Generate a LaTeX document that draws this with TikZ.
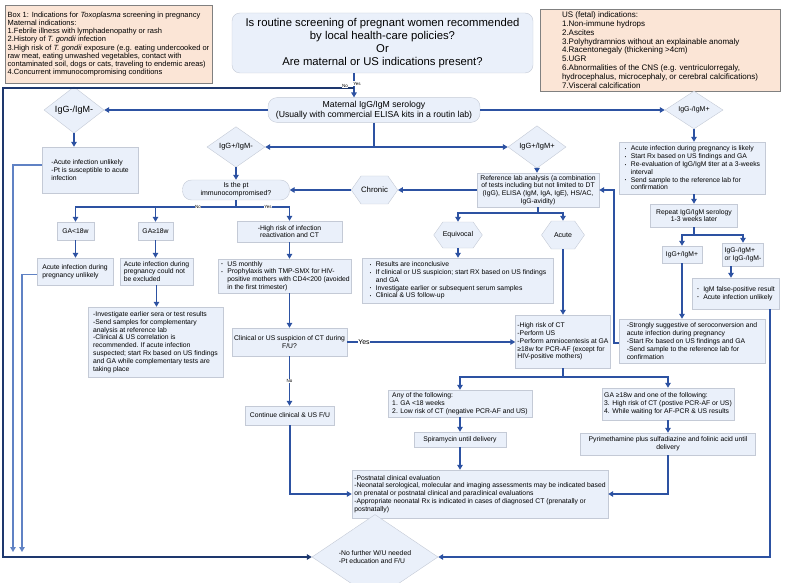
\documentclass[tikz,border=0pt]{standalone}
\usepackage{fontspec}
\setmainfont{Liberation Sans}
\usepackage{graphicx}
\usetikzlibrary{shapes.geometric,shapes.symbols,arrows.meta}

\definecolor{boxfill}{RGB}{234,240,250}
\definecolor{boxline}{RGB}{196,202,214}
\definecolor{peach}{RGB}{251,229,214}
\definecolor{arrowblue}{RGB}{45,82,162}
\definecolor{navy}{RGB}{30,56,110}
\definecolor{lightline}{RGB}{96,130,196}

\newcommand{\bl}{\makebox[7pt][l]{\hspace{1pt}\raisebox{.4pt}{\scalebox{.6}{\textbullet}}}}
\newcommand{\bi}{\hspace*{7pt}}
\newcommand{\smalltxt}{\fontsize{6.8}{7.8}\selectfont}

\tikzset{
  box/.style={draw=boxline, fill=boxfill, inner sep=2pt, align=left, font=\smalltxt},
  cbox/.style={box, align=center},
  note/.style={draw=black!50, fill=peach, inner sep=2pt, align=left},
  dec/.style={diamond, draw=boxline, fill=boxfill, inner sep=0pt, align=center, font=\fontsize{7.5}{9}\selectfont},
  hex/.style={signal, signal to=east and west, signal pointer angle=110, draw=boxline, fill=boxfill, inner sep=0pt, font=\fontsize{7}{8}\selectfont},
  arr/.style={draw=arrowblue, line width=1.3pt, -{Triangle[length=5pt,width=5.5pt]}},
  ln/.style={draw=arrowblue, line width=1.3pt},
  tag/.style={font=\fontsize{4.5}{5}\selectfont, fill=white, inner sep=.5pt},
}

\begin{document}
\begin{tikzpicture}[x=1pt,y=-1pt]
\useasboundingbox (0,0) rectangle (785,583);

\begin{scope}[every node/.style={note, font=\fontsize{7.5}{8.2}\selectfont}]
  \node[minimum width=207pt, minimum height=78pt] (box1) at (108.5,44) {Box 1: Indications for \textit{Toxoplasma} screening in pregnancy\\Maternal indications:\\1.Febrile illness with lymphadenopathy or rash\\2.History of \textit{T. gondii} infection\\3.High risk of \textit{T. gondii} exposure (e.g. eating undercooked or\\raw meat, eating unwashed vegetables, contact with\\contaminated soil, dogs or cats, traveling to endemic areas)\\4.Concurrent immunocompromising conditions};
  \node[minimum width=240pt, minimum height=82pt, font=\fontsize{8}{8.8}\selectfont] (box2) at (660,50) {US (fetal) indications:\\1.Non-immune hydrops\\2.Ascites\\3.Polyhydramnios without an explainable anomaly\\4.Racentonegaly (thickening >4cm)\\5.UGR\\6.Abnormalities of the CNS (e.g. ventriculorregaly,\\hydrocephalus, microcephaly, or cerebral calcifications)\\7.Visceral calcification};
\end{scope}

\node[draw=boxline, fill=boxfill, rounded corners=8pt, minimum width=301pt, minimum height=60pt, align=center, font=\fontsize{11.3}{13}\selectfont] (q) at (382.5,43) {Is routine screening of pregnant women recommended\\by local health-care policies?\\Or\\Are maternal or US indications present?};
\node[draw=boxline, fill=boxfill, rounded corners=9pt, minimum width=212pt, minimum height=23pt, align=center, font=\fontsize{8.7}{10}\selectfont] (ser) at (374,110) {Maternal IgG/IgM serology\\(Usually with commercial ELISA kits in a routin lab)};

\node[dec, minimum width=60pt, minimum height=37pt, font=\fontsize{9}{10}\selectfont] (dnn) at (74,110) {IgG-/IgM-};
\node[dec, minimum width=58pt, minimum height=34pt, font=\fontsize{7}{8}\selectfont] (dnp) at (694,110) {IgG-/IgM+};
\node[dec, minimum width=58pt, minimum height=37pt] (dpn) at (236,147) {IgG+/IgM-};
\node[dec, minimum width=58pt, minimum height=36pt] (dpp) at (537,147) {IgG+/IgM+};

\node[box, minimum width=96pt, minimum height=46pt] (unl) at (90,170) {-Acute infection unlikely\\-Pt is susceptible to acute\\infection};
\node[cbox, rounded corners=9pt, minimum width=107pt, minimum height=20pt, font=\fontsize{7}{8}\selectfont] (imm) at (236,190) {Is the pt\\immunocompromised?};
\node[hex, minimum width=45pt, minimum height=28pt, font=\fontsize{7.8}{9}\selectfont] (chr) at (374.5,190) {Chronic};
\node[cbox, minimum width=122pt, minimum height=34pt] (ref) at (538,190) {Reference lab analysis (a combination\\of tests including but not limited to DT\\(IgG), ELISA (IgM, IgA, IgE), HS/AC,\\IgG-avidity)};
\node[hex, minimum width=43pt, minimum height=26pt] (equ) at (458,235) {Equivocal};
\node[hex, minimum width=43pt, minimum height=28pt] (acu) at (563,235) {Acute};
\node[box, minimum width=191pt, minimum height=45pt] (res) at (457.5,280.5) {\bl Results are inconclusive\\\bl If clinical or US suspicion; start RX based on US findings\\\bi and GA\\\bl Investigate earlier or subsequent serum samples\\\bl Clinical \& US follow-up};
\node[box, minimum width=93pt, minimum height=53pt] (hri) at (563,341.5) {-High risk of CT\\-Perform US\\-Perform amniocentesis at GA\\≥18w for PCR-AF (except for\\HIV-positive mothers)};

\node[box, minimum width=146pt, minimum height=52pt] (lik) at (692,168) {\bl Acute infection during pregnancy is likely\\\bl Start Rx based on US findings and GA\\\bl Re-evaluation of IgG/IgM titer at a 3-weeks\\\bi interval\\\bl Send sample to the reference lab for\\\bi confirmation};
\node[cbox, minimum width=87pt, minimum height=23pt] (rep) at (694,215.5) {Repeat IgG/IgM serology\\1-3 weeks later};
\node[cbox, minimum width=40pt, minimum height=17pt] (ppb) at (682,254.5) {IgG+/IgM+};
\node[box, minimum width=40pt, minimum height=23pt] (nb) at (743,254.5) {IgG-/IgM+\\or IgG-/IgM-};
\node[box, minimum width=87pt, minimum height=31pt] (fpb) at (735.5,293.5) {\bl IgM false-positive result\\\bl Acute infection unlikely};
\node[box, minimum width=146pt, minimum height=44pt] (str) at (692,341) {-Strongly suggestive of seroconversion and\\acute infection during pregnancy\\-Start Rx based on US findings and GA\\-Send sample to the reference lab for\\confirmation};

\node[cbox, minimum width=37pt, minimum height=18pt] (ga1) at (75.5,231) {GA<18w};
\node[cbox, minimum width=35pt, minimum height=18pt] (ga2) at (155.5,231) {GA≥18w};
\node[cbox, minimum width=105pt, minimum height=21pt] (hrr) at (289.5,231.5) {-High risk of infection\\reactivation and CT};
\node[box, minimum width=76pt, minimum height=27pt] (apu) at (75,271.5) {Acute infection during\\pregnancy unlikely};
\node[box, minimum width=73pt, minimum height=27pt] (ane) at (156.5,271.5) {Acute infection during\\pregnancy could not\\be excluded};
\node[box, minimum width=135pt, minimum height=70pt] (inv) at (155.5,342) {-Investigate earlier sera or test results\\-Send samples for complementary\\analysis at reference lab\\-Clinical \& US correlation is\\recommended. If acute infection\\suspected; start Rx based on US findings\\and GA while complementary tests are\\taking place};
\node[box, minimum width=126pt, minimum height=34pt] (usm) at (285,276) {\bl US monthly\\\bl Prophylaxis with TMP-SMX for HIV-\\\bi positive mothers with CD4<200 (avoided\\\bi in the first trimester)};
\node[cbox, minimum width=115pt, minimum height=28pt] (cli) at (289.5,342) {Clinical or US suspicion of CT during\\F/U?};
\node[cbox, minimum width=89pt, minimum height=19pt] (con) at (290,415.5) {Continue clinical \& US F/U};

\node[box, minimum width=144pt, minimum height=27pt] (any) at (460,403.5) {Any of the following:\\1. GA <18 weeks\\2. Low risk of CT (negative PCR-AF and US)};
\node[box, minimum width=130pt, minimum height=32pt] (gab) at (668,404) {GA ≥18w and one of the following:\\3. High risk of CT (postive PCR-AF or US)\\4. While waiting for AF-PCR \& US results};
\node[cbox, minimum width=92pt, minimum height=15pt] (spi) at (460,439.5) {Spiramycin until delivery};
\node[cbox, minimum width=175pt, minimum height=22pt] (pyr) at (668,444) {Pyrimethamine plus sulfadiazine and folinic acid until\\delivery};
\node[box, minimum width=256pt, minimum height=48pt] (pos) at (480,494) {-Postnatal clinical evaluation\\-Neonatal serological, molecular and imaging assessments may be indicated based\\on prenatal or postnatal clinical and paraclinical evaluations\\-Appropriate neonatal Rx is indicated in cases of diagnosed CT (prenatally or\\postnatally)};
\node[dec, minimum width=126pt, minimum height=52pt, align=left, font=\smalltxt] (nfw) at (375,557) {-No further W/U needed\\-Pt education and F/U};

\coordinate (yes) at (354,88);
\coordinate (nw) at (3,88);
\draw[arr] (q.south -| yes) -- (ser.north -| yes);
\draw[arr, draw=navy] (yes) -- (nw) |- (nfw.west);
\node[tag] (noq) at (345,86) {No};
\node[tag] (yesq) at (357,83.5) {Yes};

\draw[arr] (ser.west) -- (dnn.east);
\draw[arr] (ser.east) -- (dnp.west);
\coordinate (sj) at (374,147);
\draw[ln] (ser.south) -- (sj);
\draw[arr] (sj) -- (dpn.east);
\draw[arr] (sj) -- (dpp.west);

\draw[arr] (dnn.south) -- (dnn.south |- unl.north);
\coordinate (e1) at (13,552);
\coordinate (e2) at (22,552);
\draw[arr, draw=lightline] ([yshift=5pt]unl.west) -| (e1);
\draw[arr, draw=lightline] ([yshift=-3pt]apu.west) -| (e2);

\draw[arr] (dpn.south) -- (imm.north);
\coordinate (ij) at (236,207);
\draw[ln] (imm.south) -- (ij);
\draw[arr] (ij) -| (ga1.north);
\draw[arr] (ij) -| (ga2.north);
\draw[arr] (ij) -| (hrr.north);
\node[tag] (noimm) at (198,206.5) {No};
\node[tag] (yesimm) at (268,206.5) {Yes};
\draw[arr] (ga1.south) -- (ga1.south |- apu.north);
\draw[arr] (ga2.south) -- (ga2.south |- ane.north);
\draw[arr] (ane.south) -- (ane.south |- inv.north);

\draw[arr] (ref.west) -- (chr.east);
\draw[arr] (chr.west) -- (imm.east);
\draw[arr] (dpp.south) -- (dpp.south |- ref.north);
\coordinate (rj) at (538,213);
\draw[ln] (ref.south) -- (rj);
\draw[arr] (rj) -| (equ.north);
\draw[arr] (rj) -| (acu.north);
\draw[arr] (equ.south) -- (equ.south |- res.north);
\draw[arr] (acu.south) -- (hri.north);

\draw[arr] (hrr.south) -- (hrr.south |- usm.north);
\draw[arr] (usm.south -| cli.north) -- (cli.north);
\draw[arr] (cli.south) -- node[tag] (nocli) {No} (cli.south |- con.north);
\draw[arr] (cli.east) -- node[tag, pos=.1, font=\fontsize{7}{8}\selectfont] (yescli) {Yes} (cli.east -| hri.west);
\draw[arr] (con.south) |- (pos.west);

\coordinate (hj) at (563,377);
\draw[ln] (hri.south) -- (hj);
\draw[arr] (hj) -| (any.north);
\draw[arr] (hj) -| (gab.north);
\draw[arr] (any.south) -- (spi.north);
\draw[arr] (spi.south) -- (spi.south |- pos.north);
\draw[arr] (gab.south) -- (pyr.north);
\draw[arr] (pyr.south) |- (pos.east);

\draw[arr] (dnp.south) -- (dnp.south |- lik.north);
\draw[arr] (lik.south -| rep.north) -- (rep.north);
\coordinate (pj) at (694,235);
\draw[ln] (rep.south) -- (pj);
\draw[arr] (pj) -| (ppb.north);
\draw[arr] (pj) -| (nb.north);
\draw[arr] ([xshift=-12pt]nb.south) -- ([xshift=-12pt]nb.south |- fpb.north);
\coordinate (rc) at (770,557);
\draw[arr] (fpb.south -| rc) |- (nfw.east);
\draw[arr] (ppb.south) -- (ppb.south |- str.north);
\coordinate (sc) at (614,190);
\draw[arr] ([yshift=-2pt]str.west) -| (sc) -- (ref.east);

\end{tikzpicture}
\end{document}
